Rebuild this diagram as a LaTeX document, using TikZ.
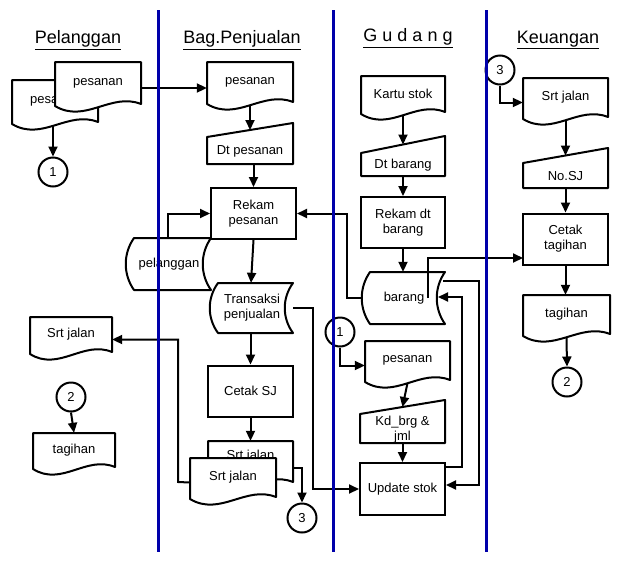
\documentclass[tikz,border=0pt]{standalone}
\usepackage{fontspec}
\setmainfont{Liberation Sans}
\usetikzlibrary{arrows.meta,calc}
\tikzset{
 shp/.style={draw=black,fill=white,line width=2pt,line join=round},
 box/.style={draw=black,fill=white,line width=2pt,minimum width=85pt,minimum height=51pt,inner sep=1pt,align=center,font=\lbl},
 cir/.style={draw=black,fill=white,line width=2pt,circle,minimum size=29pt,inner sep=0pt,font=\lbl},
 arr/.style={draw=black,line width=2pt,-{Triangle[length=10pt,width=9pt]}},
 ln/.style={draw=black,line width=2pt},
 txt/.style={align=center,font=\lbl,inner sep=0pt},
 hdr/.style={font=\fontsize{18}{20}\selectfont,inner sep=0pt},
 lane/.style={draw={rgb,255:red,0;green,0;blue,170},line width=3pt}
}
\newcommand\lbl{\fontsize{13}{15}\selectfont}
% document: name x1 y1 x2 y2 text
\newcommand\docsh[6]{%
 \draw[shp] (#2,#3) -- (#4,#3) -- (#4,{#5-10}) .. controls ({#2+0.65*(#4-#2)},{#5-22}) and ({#2+0.35*(#4-#2)},{#5+10}) .. (#2,{#5-8}) -- cycle;
 \node[inner sep=0,minimum width={(#4-#2)*1pt},minimum height={(#5-#3)*1pt}] (#1) at ({(#2+#4)/2},{(#3+#5)/2}) {};
 \node[txt] (#1-txt) at ({(#2+#4)/2},{#3+(#5-#3-10)/2}) {#6};
 \coordinate (#1-b) at ({(#2+#4)/2},{#5-7});
}
% manual input: name x1 yl yr x2 y2 text
\newcommand\minput[7]{%
 \draw[shp] (#2,#3) -- (#5,#4) -- (#5,#6) -- (#2,#6) -- cycle;
 \node[inner sep=0,minimum width={(#5-#2)*1pt},minimum height={(#6-#4)*1pt}] (#1) at ({(#2+#5)/2},{(#4+#6)/2}) {};
 \node[txt] (#1-txt) at ({(#2+#5)/2},{(#3+#6)/2+1}) {#7};
 \coordinate (#1-t) at ({(#2+#5)/2},{(#3+#4)/2});
}
% stored data: name x1 y1 x2 y2 text
\newcommand\stor[6]{%
 \draw[shp] ({#2+9},#3) -- (#4,#3) .. controls ({#4-11},{#3+0.3*(#5-#3)}) and ({#4-11},{#5-0.3*(#5-#3)}) .. (#4,#5) -- ({#2+9},#5) .. controls ({#2-2},{#5-0.3*(#5-#3)}) and ({#2-2},{#3+0.3*(#5-#3)}) .. ({#2+9},#3) -- cycle;
 \node[inner sep=0,minimum width={(#4-#2)*1pt},minimum height={(#5-#3)*1pt}] (#1) at ({(#2+#4)/2},{(#3+#5)/2}) {};
 \node[txt] (#1-txt) at ({(#2+#4)/2+1},{(#3+#5)/2}) {#6};
}
\begin{document}
\begin{tikzpicture}[x=1pt,y=-1pt]
\useasboundingbox (0,0) rectangle (632,576);
% headers
\node[hdr] (h1) at (78,40) {\underline{Pelanggan}};
\node[hdr] (h2) at (242,40) {\underline{Bag.Penjualan}};
\node[hdr] (h3) at (408,38) {\underline{G u d a n g}};
\node[hdr] (h4) at (558,40) {\underline{Keuangan}};

% Pelanggan
\docsh{plback}{12}{80}{98}{132}{pesanan}
\docsh{plpes}{55}{62}{141}{114}{pesanan}
\node[cir] (c1a) at (53,172) {1};
\draw[arr] (plback-b -| c1a) -- (c1a.north);
\docsh{plsj}{30}{317}{112}{362}{Srt jalan}
\node[cir] (c2a) at (71,397) {2};
\docsh{pltag}{33}{433}{115}{477}{tagihan}
\draw[arr] (c2a.south) -- (pltag.north);

% Penjualan
\docsh{pjpes}{207}{62}{293}{112}{pesanan}
\draw[arr] (plpes.east) -- (plpes.east -| pjpes.west);
\minput{pjdt}{207}{137}{123}{293}{164}{Dt pesanan}
\draw[arr] (pjpes-b) -- (pjdt-t);
\node[box] (pjrek) at (253.5,213.5) {Rekam\\pesanan};
\draw[arr] (pjdt.south -| pjrek) -- (pjrek.north);
\stor{pjpel}{125}{238}{211}{290}{pelanggan}
\draw[arr] (pjpel.north) |- (pjrek.west);
\stor{pjtr}{209}{283}{293}{333}{Transaksi\\penjualan}
\draw[arr] (pjrek.south) -- (pjtr.north);
\node[box] (pjcsj) at (250.5,391) {Cetak SJ};
\draw[arr] (pjtr.south -| pjcsj) -- (pjcsj.north);
\docsh{pjsj}{208}{441}{293}{492}{\raisebox{13pt}{Srt jalan}}
\draw[arr] (pjcsj.south) -- (pjsj.north);
\docsh{pjsj2}{190}{458}{276}{507}{Srt jalan}
\node[cir] (c3a) at (302,518) {3};
\draw[arr] (pjsj.east |- 0,468) -| (c3a.north);

% Gudang
\docsh{gdks}{361}{76}{445}{122}{Kartu stok}
\minput{gddt}{361}{153}{136}{445}{176}{Dt barang}
\draw[arr] (gdks-b) -- (gddt-t);
\node[box,minimum width=84pt] (gdrek) at (403,222.5) {Rekam dt\\barang};
\draw[arr] (gddt.south) -- (gdrek.north);
\stor{gdbar}{361}{272}{445}{324}{barang}
\draw[arr] (gdrek.south) -- (gdbar.north);
\node[cir] (c1b) at (340,332) {1};
\docsh{gdpes}{365}{341}{450}{390}{pesanan}
\draw[arr] (c1b.south) |- (gdpes.west);
\minput{gdkd}{360}{414}{400}{445}{443}{Kd\_brg \&\\jml}
\draw[arr] (gdpes-b) -- (gdkd-t);
\node[box,minimum width=85pt,minimum height=52pt] (gdup) at (402.5,489) {Update stok};
\draw[arr] (gdkd.south) -- (gdup.north);
\draw[arr] (pjtr.east) -- (313,308) |- (gdup.west);
\draw[arr] (gdbar.west) -- (347,298) |- (pjrek.east);
\coordinate (gbr1) at (479,281);
\draw[arr] (443,281) -- (gbr1) |- (gdup.east |- 0,485);
\coordinate (gbr2) at (462,467);
\draw[arr] (gdup.east |- gbr2) -- (gbr2) |- (438,297);
\draw[arr] (gdrek.south -| 428,0) ++(0,49) |- (523,258);
\draw[arr] (pjsj2.west) -- (178,482) |- (plsj.east);

% Keuangan
\node[cir] (c3b) at (500,70) {3};
\docsh{ksj}{523}{78}{608}{127}{Srt jalan}
\draw[arr] (c3b.south) |- (ksj.west);
\minput{kno}{523}{163}{148}{608}{188}{No.SJ}
\draw[arr] (ksj-b) -- (kno-t);
\node[box] (kcet) at (565.5,239) {Cetak\\tagihan};
\draw[arr] (kno.south) -- (kcet.north);
\docsh{ktag}{523}{295}{610}{344}{tagihan}
\draw[arr] (kcet.south) -- (kcet.south |- ktag.north);
\node[cir] (c2b) at (567,382) {2};
\draw[arr] (ktag-b) -- (c2b.north);

% lanes
\draw[lane] (158,10) -- (158,552);
\draw[lane] (333,10) -- (333,552);
\draw[lane] (486,10) -- (486,552);
\end{tikzpicture}
\end{document}
